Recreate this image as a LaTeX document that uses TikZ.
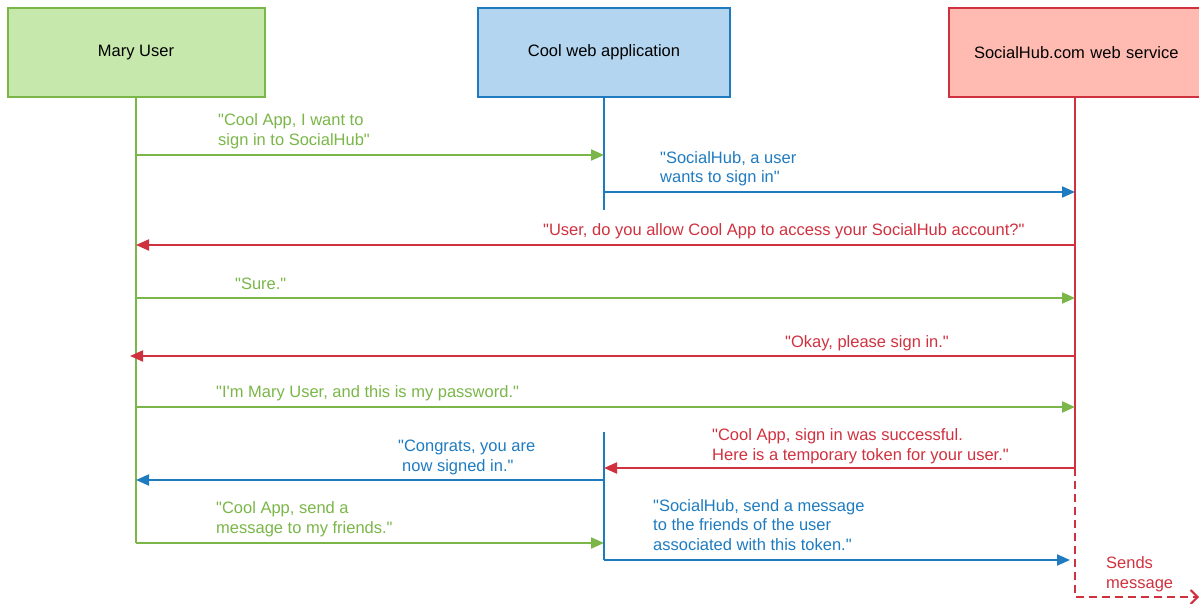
\documentclass[tikz,border=0pt]{standalone}
\usepackage{fontspec}
\newfontfamily\lib{Liberation Sans}
\usetikzlibrary{arrows.meta}
\definecolor{gstroke}{HTML}{7AB648}
\definecolor{gfill}{HTML}{C7E8AC}
\definecolor{bstroke}{HTML}{1F7BC0}
\definecolor{bfill}{HTML}{B3D5F0}
\definecolor{rstroke}{HTML}{D0313F}
\definecolor{rfill}{HTML}{FFBBB1}
\tikzset{
  actor/.style={draw, line width=2pt, minimum height=89pt, inner sep=0pt, font=\lib\fontsize{16.5}{20}\selectfont},
  msg/.style={line width=2pt, -{Triangle[length=13pt,width=11pt]}},
  life/.style={line width=2pt},
  lbl/.style={anchor=base west, inner sep=0pt, align=left, font=\lib\fontsize{16.5}{20}\selectfont},
}
\begin{document}
\begin{tikzpicture}[x=1pt,y=-1pt]
\useasboundingbox (0,0) rectangle (1199,604);
\begin{scope}
\clip (0,0) rectangle (1199,604);
% actor boxes
\node[actor, fill=gfill, draw=gstroke, minimum width=257pt] (mary) at (136,52.5) {Mary User};
\node[actor, fill=bfill, draw=bstroke, minimum width=252pt] (app) at (604,52.5) {Cool web application};
\node[actor, fill=rfill, draw=rstroke, minimum width=252pt, text width=252pt, align=left] (hub) at (1075,52.5) {\hspace*{25pt}SocialHub.com web service};
% coordinates
\coordinate (aEnd1) at (604,210);
\coordinate (m155) at (136,155); \coordinate (a155) at (604,155);
\coordinate (a192) at (604,192); \coordinate (h192) at (1075,192);
\coordinate (h245) at (1075,245); \coordinate (m245) at (136,245);
\coordinate (m298) at (136,298); \coordinate (h298) at (1075,298);
\coordinate (h356) at (1075,356); \coordinate (m356) at (130,356);
\coordinate (m407) at (136,407); \coordinate (h407) at (1075,407);
\coordinate (h468) at (1075,468); \coordinate (a468) at (604,468);
\coordinate (a480) at (604,480); \coordinate (m480) at (136,480);
\coordinate (m543) at (136,543); \coordinate (a543) at (604,543);
\coordinate (a432) at (604,432); \coordinate (a560) at (604,560); \coordinate (h560) at (1070,560);
\coordinate (h597) at (1075,597); \coordinate (e597) at (1199,597);
% lifelines
\draw[life, gstroke] (mary.south) -- (m543);
\draw[msg, gstroke] (m543) -- (a543);
\draw[life, bstroke] (app.south) -- (aEnd1);
\draw[life, bstroke] (a432) -- (a560);
\draw[msg, bstroke] (a560) -- (h560);
\draw[life, rstroke] (hub.south) -- (h468);
\draw[msg, rstroke] (h468) -- (a468);
\draw[line width=2pt, rstroke, dash pattern=on 8pt off 5pt, -{Straight Barb[length=7pt,width=14pt]}] (h468) -- (h597) -- (e597);
% messages
\draw[msg, gstroke] (m155) -- (a155);
\draw[msg, bstroke] (a192) -- (h192);
\draw[msg, rstroke] (h245) -- (m245);
\draw[msg, gstroke] (m298) -- (h298);
\draw[msg, rstroke] (h356) -- (m356);
\draw[msg, gstroke] (m407) -- (h407);
\draw[msg, bstroke] (a480) -- (m480);
\end{scope}
% labels (anchor = baseline of last line)
\node[lbl, text=gstroke] (l1) at (218,146) {"Cool App, I want to\\sign in to SocialHub"};
\node[lbl, text=bstroke] (l2) at (660,183) {"SocialHub, a user\\wants to sign in"};
\node[lbl, text=rstroke] (l3) at (543,236) {"User, do you allow Cool App to access your SocialHub account?"};
\node[lbl, text=gstroke] (l4) at (235,289) {"Sure."};
\node[lbl, text=rstroke] (l5) at (785,347) {"Okay, please sign in."};
\node[lbl, text=gstroke] (l6) at (216,397) {"I'm Mary User, and this is my password."};
\node[lbl, text=rstroke] (l7) at (712,460) {"Cool App, sign in was successful.\\Here is a temporary token for your user."};
\node[lbl, text=bstroke] (l8) at (398,471) {"Congrats, you are\\\hspace*{4pt}now signed in."};
\node[lbl, text=gstroke] (l9) at (216,533) {"Cool App, send a\\message to my friends."};
\node[lbl, text=bstroke, font=\lib\fontsize{16.5}{19.5}\selectfont] (l10) at (653,550) {"SocialHub, send a message\\to the friends of the user\\associated with this token."};
\node[lbl, text=rstroke] (l11) at (1106,588) {Sends\\message};
\end{tikzpicture}
\end{document}
